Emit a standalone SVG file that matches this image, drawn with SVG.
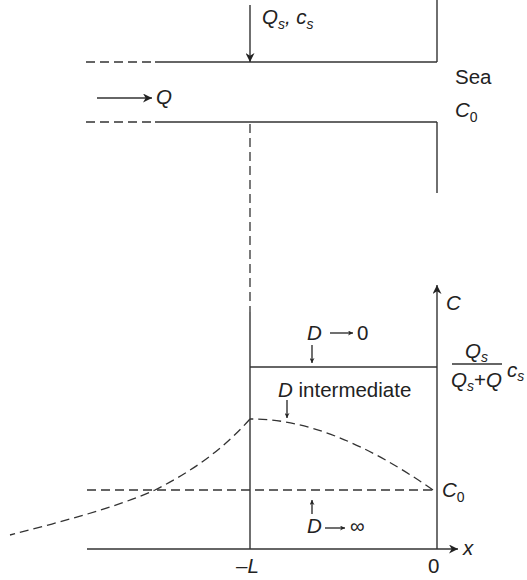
<svg xmlns="http://www.w3.org/2000/svg" width="527" height="580" viewBox="0 0 527 580">
<style>
.l{stroke:#333;stroke-width:1.4;fill:none}
.d{stroke:#333;stroke-width:1.3;fill:none;stroke-dasharray:9,5}
.t{font-family:"Liberation Sans",Arial,sans-serif;font-size:20.5px;fill:#222}
.i{font-style:italic}
.s{font-size:14px}
</style>
<defs>
<marker id="a" viewBox="0 0 10 10" refX="10" refY="5" markerWidth="14" markerHeight="9" markerUnits="userSpaceOnUse" orient="auto"><path d="M0,0 L10,5 L0,10 L3,5 z" fill="#222"/></marker>
<marker id="sa" viewBox="0 0 10 10" refX="10" refY="5" markerWidth="8" markerHeight="5" markerUnits="userSpaceOnUse" orient="auto"><path d="M0,0 L10,5 L0,10 L3,5 z" fill="#222"/></marker>
</defs>
<g id="channel">
<line class="d" x1="86" y1="62" x2="155" y2="62"/>
<line class="l" x1="155" y1="62" x2="437" y2="62"/>
<line class="l" x1="437" y1="0" x2="437" y2="62"/>
<line class="d" x1="86" y1="122" x2="155" y2="122"/>
<line class="l" x1="155" y1="122" x2="437" y2="122"/>
<line class="l" x1="437" y1="122" x2="437" y2="193"/>
<line class="d" x1="250" y1="124" x2="250" y2="312"/>
</g>
<g id="labels-top">
<text class="t i" x="262" y="24">Q<tspan class="s" dy="5">s</tspan><tspan dy="-5">, c</tspan><tspan class="s" dy="5">s</tspan></text>
<text class="t i" x="156" y="104">Q</text>
<text class="t" x="455" y="84">Sea</text>
<text class="t i" x="455" y="117">C<tspan class="s" dy="5" font-style="normal">0</tspan></text>
</g>
<g id="graph">
<line class="l" x1="250" y1="312" x2="250" y2="549"/>
<line class="l" x1="250" y1="367" x2="437" y2="367"/>
<line class="l" x1="437" y1="549" x2="437" y2="285" marker-end="url(#a)"/>
<line class="l" x1="87" y1="549" x2="458" y2="549" marker-end="url(#a)"/>
<line class="d" x1="87" y1="490" x2="433" y2="490"/>
<path class="d" d="M433,490 Q330,418 250,419"/>
<path class="d" d="M250,419 C225,447 195,470 155,490 C115,508 60,522 10,535"/>
</g>
<g id="connectors">
<line class="l" x1="250" y1="5" x2="250" y2="62" marker-end="url(#a)"/>
<line class="l" x1="97" y1="98" x2="152" y2="98" marker-end="url(#a)"/>
<line class="l" stroke-width="1" x1="330" y1="333" x2="353" y2="333" marker-end="url(#sa)"/>
<line class="l" stroke-width="1" x1="312" y1="345" x2="312" y2="363" marker-end="url(#sa)"/>
<line class="l" stroke-width="1" x1="287" y1="400" x2="287" y2="418" marker-end="url(#sa)"/>
<line class="l" stroke-width="1" x1="312" y1="514" x2="312" y2="500" marker-end="url(#sa)"/>
<line class="l" stroke-width="1" x1="325" y1="528" x2="345" y2="528" marker-end="url(#sa)"/>
</g>
<g id="labels-graph">
<text class="t i" x="446" y="310">C</text>
<text class="t i" x="307" y="340">D</text>
<text class="t" x="357" y="340">0</text>
<text class="t i" x="465" y="358">Q<tspan class="s" dy="4">s</tspan></text>
<line class="l" stroke-width="1.2" x1="452" y1="364" x2="502" y2="364"/>
<text class="t i" x="451" y="387">Q<tspan class="s" dy="4">s</tspan><tspan dy="-4" font-style="normal">+</tspan>Q</text>
<text class="t i" x="507" y="377">c<tspan class="s" dy="4">s</tspan></text>
<text class="t" x="278" y="397"><tspan class="i">D</tspan> intermediate</text>
<text class="t i" x="442" y="497">C<tspan class="s" dy="5" font-style="normal">0</tspan></text>
<text class="t i" x="307" y="533">D</text>
<text class="t" x="350" y="533">∞</text>
<text class="t i" x="463" y="555">x</text>
<text class="t i" x="236" y="573">–L</text>
<text class="t" x="428" y="573">0</text>
</g>
</svg>
